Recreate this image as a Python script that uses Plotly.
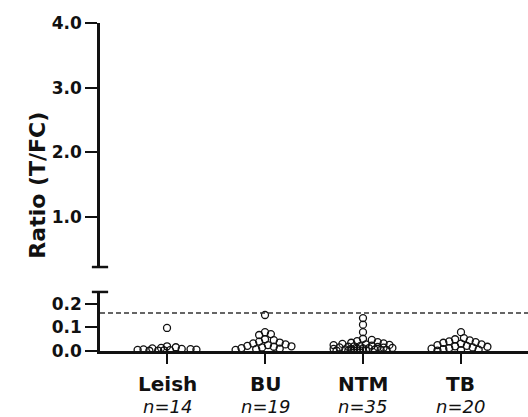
import plotly.graph_objects as go

categories = ["Leish", "BU", "NTM", "TB"]
counts = ["n=14", "n=19", "n=35", "n=20"]

leish = [0.098, 0.020, 0.016, 0.013, 0.011, 0.009, 0.008, 0.007, 0.006, 0.005, 0.004, 0.003, 0.002, 0.001]
bu = [0.153, 0.080, 0.072, 0.068, 0.050, 0.046, 0.040, 0.036, 0.032, 0.028, 0.025, 0.022, 0.020, 0.018,
      0.015, 0.012, 0.010, 0.008, 0.005]
ntm = [0.140, 0.112, 0.080, 0.052, 0.047, 0.042, 0.038, 0.035, 0.032, 0.030, 0.028, 0.026, 0.025, 0.023,
       0.021, 0.020, 0.018, 0.017, 0.015, 0.014, 0.013, 0.012, 0.011, 0.010, 0.009, 0.008, 0.007, 0.006,
       0.005, 0.005, 0.004, 0.003, 0.002, 0.002, 0.001]
tb = [0.080, 0.055, 0.050, 0.045, 0.041, 0.038, 0.035, 0.031, 0.028, 0.025, 0.022, 0.020, 0.018, 0.015,
      0.012, 0.010, 0.008, 0.006, 0.004, 0.002]
groups = [leish, bu, ntm, tb]

threshold = 0.162

upper_ticks = [1.0, 2.0, 3.0, 4.0]
lower_ticks = [0.0, 0.1, 0.2]

FONT = "DejaVu Sans"
INK = "#111111"

# deterministic beeswarm for horizontal placement (pixel space of lower panel)
PX_X = 98.0     # pixels per category unit
PX_Y = 235.0    # pixels per ratio unit
DIAM = 6.0
MAXW = 0.30
STEP = 0.03


def swarm(vals):
    placed = []
    cands = [0.0]
    k = 1
    while k * STEP <= MAXW + 1e-9:
        cands += [k * STEP, -k * STEP]
        k += 1
    for v in sorted(vals, reverse=True):
        best, bestd = None, -1
        for o in cands:
            d = min([((o - po) * PX_X) ** 2 + ((v - pv) * PX_Y) ** 2 for po, pv in placed] or [1e9])
            if d >= DIAM * DIAM:
                best = o
                break
            if d > bestd:
                best, bestd = o, d
        placed.append((best, v))
    return placed


fig = go.Figure()
for i, vals in enumerate(groups):
    pts = swarm(vals)
    fig.add_trace(go.Scatter(
        x=[i + o for o, v in pts], y=[v for o, v in pts], mode="markers",
        marker=dict(symbol="circle-open", size=7, color=INK, line=dict(width=1.3, color=INK)),
        showlegend=False, xaxis="x", yaxis="y", hoverinfo="skip"))

# invisible trace so the upper axis exists
fig.add_trace(go.Scatter(x=[0], y=[2], mode="markers", marker=dict(opacity=0),
                         showlegend=False, xaxis="x", yaxis="y2", hoverinfo="skip"))

axis_common = dict(showgrid=False, zeroline=False, showline=True, linecolor=INK, linewidth=2.5,
                   ticks="outside", ticklen=12, tickwidth=2, tickcolor=INK,
                   tickfont=dict(family=FONT, size=17, color=INK, weight="bold"))

fig.update_layout(
    width=528, height=417,
    margin=dict(l=100, r=0, t=23, b=66),
    paper_bgcolor="white", plot_bgcolor="white",
    xaxis=dict(range=[-0.684, 3.684], tickvals=[0, 1, 2, 3], showticklabels=False,
               showgrid=False, zeroline=False, showline=True, linecolor=INK, linewidth=2.5,
               ticks="outside", ticklen=10, tickwidth=2, tickcolor=INK, anchor="y"),
    yaxis=dict(domain=[0, 0.18], range=[0, 0.251], tickvals=lower_ticks,
               ticktext=[f"{t:.1f}" for t in lower_ticks], anchor="x", **axis_common),
    yaxis2=dict(domain=[0.256, 1], range=[0.227, 4.0], tickvals=upper_ticks,
                ticktext=[f"{t:.1f}" for t in upper_ticks], anchor="x", **axis_common),
)

# break caps
fig.add_shape(type="line", xref="paper", yref="y2 domain", x0=-0.019, x1=0.019, y0=0, y1=0,
              line=dict(color=INK, width=2.5))
fig.add_shape(type="line", xref="paper", yref="y domain", x0=-0.019, x1=0.019, y0=1, y1=1,
              line=dict(color=INK, width=2.5))

# threshold dashed line
fig.add_shape(type="line", xref="paper", yref="y", x0=0, x1=1, y0=threshold, y1=threshold,
              line=dict(color="#333333", width=1.5, dash="5px,3px"))

for i, (c, n) in enumerate(zip(categories, counts)):
    fig.add_annotation(x=i, y=-0.10, xref="x", yref="paper", text=f"<b>{c}</b>", showarrow=False,
                       font=dict(family=FONT, size=20, color=INK), yanchor="middle")
    fig.add_annotation(x=i, y=-0.168, xref="x", yref="paper", text=f"<i>{n}</i>", showarrow=False,
                       font=dict(family=FONT, size=18, color=INK), yanchor="middle")

fig.add_annotation(x=-0.182, y=0.506, xref="paper", yref="paper", text="<b>Ratio (T/FC)</b>",
                   textangle=-90, showarrow=False, font=dict(family=FONT, size=22, color=INK))

fig.write_html("out.html", config={"displayModeBar": False},
               post_script="document.body.style.margin='0px';document.body.style.overflow='hidden';")
